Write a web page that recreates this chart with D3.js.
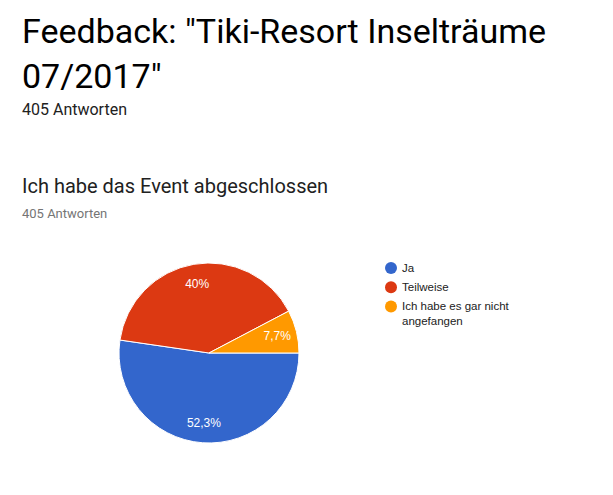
<!DOCTYPE html>
<html>
<head>
<meta charset="utf-8">
<script src="https://cdn.jsdelivr.net/npm/d3@7"></script>
<style>
  body { margin: 0; background: #fff; }
</style>
</head>
<body>
<div id="container"></div>
<script>
// answers to the question
const categories = ["Ja", "Teilweise", "Ich habe es gar nicht angefangen"];
const values = [52.3, 40, 7.7];
const sliceLabels = ["52,3%", "40%", "7,7%"];
const colors = ["#3366cc", "#dc3912", "#ff9900"];
const titleLines = ["Feedback: \"Tiki-Resort Inselträume", "07/2017\""];

const width = 613, height = 495;

const svg = d3.select("#container")
  .append("svg")
  .attr("width", width)
  .attr("height", height);

// page header
svg.selectAll("text.title")
  .data(titleLines)
  .join("text")
  .attr("class", "title")
  .attr("x", 22)
  .attr("y", (d, i) => 42.5 + i * 45)
  .attr("font-family", "Roboto")
  .attr("font-size", 34)
  .attr("fill", "#000")
  .text(d => d);

svg.append("text")
  .attr("x", 22).attr("y", 114.5)
  .attr("font-family", "Roboto").attr("font-size", 16)
  .attr("fill", "#212121")
  .text("405 Antworten");

svg.append("text")
  .attr("x", 22).attr("y", 193)
  .attr("font-family", "Roboto").attr("font-size", 20)
  .attr("fill", "#212121")
  .text("Ich habe das Event abgeschlossen");

svg.append("text")
  .attr("x", 22).attr("y", 217.7)
  .attr("font-family", "Roboto").attr("font-size", 13)
  .attr("fill", "#757575")
  .text("405 Antworten");

// pie, starting at 3 o'clock going clockwise
const radius = 90;
const g = svg.append("g").attr("transform", "translate(209,353)");

const pie = d3.pie().sort(null)
  .startAngle(Math.PI / 2)
  .endAngle(Math.PI / 2 + 2 * Math.PI);
const arcs = pie(values);
const arc = d3.arc().innerRadius(0).outerRadius(radius);
const labelArc = d3.arc().innerRadius(radius * 0.78).outerRadius(radius * 0.78);

g.selectAll("path")
  .data(arcs)
  .join("path")
  .attr("d", arc)
  .attr("fill", (d, i) => colors[i])
  .attr("stroke", "#fff")
  .attr("stroke-width", 1);

g.selectAll("text")
  .data(arcs)
  .join("text")
  .attr("transform", d => "translate(" + labelArc.centroid(d) + ")")
  .attr("dy", "0.35em")
  .attr("text-anchor", "middle")
  .attr("font-family", "Liberation Sans, Arial")
  .attr("font-size", 12)
  .attr("fill", "#fff")
  .text((d, i) => sliceLabels[i]);

// legend
const legend = svg.append("g").attr("transform", "translate(391,268)");
const rows = [["Ja"], ["Teilweise"], ["Ich habe es gar nicht", "angefangen"]];
const item = legend.selectAll("g")
  .data(categories)
  .join("g")
  .attr("transform", (d, i) => "translate(0," + (i * 19.2) + ")");

item.append("circle")
  .attr("r", 6)
  .attr("fill", (d, i) => colors[i]);

item.append("text")
  .attr("x", 11)
  .attr("y", 4)
  .attr("font-family", "Liberation Sans, Arial")
  .attr("font-size", 11.5)
  .attr("fill", "#222")
  .selectAll("tspan")
  .data((d, i) => rows[i])
  .join("tspan")
  .attr("x", 11)
  .attr("dy", (d, i) => i === 0 ? 0 : 15)
  .text(d => d);
</script>
</body>
</html>
